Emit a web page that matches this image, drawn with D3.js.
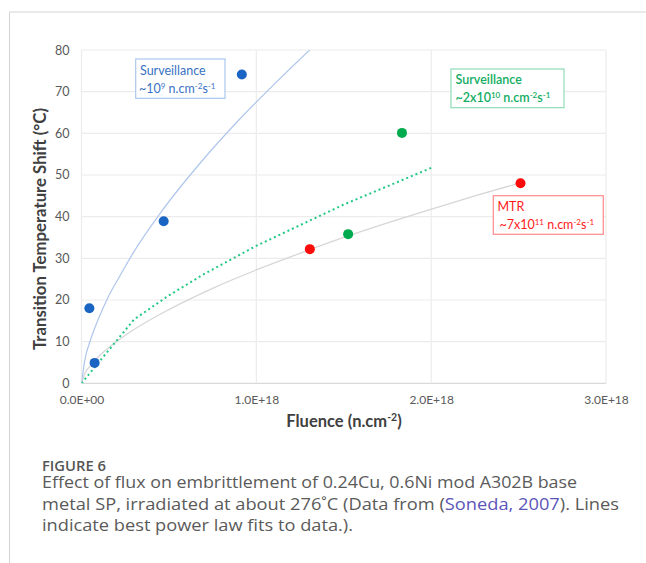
<!DOCTYPE html>
<html><head><meta charset="utf-8">
<script src="https://cdn.jsdelivr.net/npm/d3@7"></script>
<style>body{margin:0;background:#fff;} svg{display:block;}</style>
</head><body>
<svg id="c" width="646" height="563"></svg>
<script>
// ---- data (fluence in units of 1E18 n/cm2, shift in °C) ----
const xTicks = [0, 1, 2, 3];
const xTickLabels = ["0.0E+00", "1.0E+18", "2.0E+18", "3.0E+18"];
const yTicks = [0, 10, 20, 30, 40, 50, 60, 70, 80];

const blueX = [0.045, 0.075, 0.47, 0.917];
const blueY = [18, 4.9, 38.9, 74.1];
const greenX = [1.525, 1.833];
const greenY = [35.8, 60.1];
const redX = [1.306, 2.511];
const redY = [32.2, 48.0];

// fit lines
const blueFitX = [0, 0.02, 0.05, 0.1, 0.15, 0.22, 0.3, 0.45, 0.7, 0.9, 1.1, 1.31];
const blueFitY = [0, 5.8, 10.2, 15.8, 20.5, 25.8, 31.6, 40.8, 53.9, 63.2, 71.7, 80.2];
const greenFitX = [0, 0.3, 0.5, 0.7, 1.0, 1.5, 2.0];
const greenFitY = [0, 15.3, 21.1, 26.2, 33, 42.9, 51.7];
const grayFitX = [0, 0.02, 0.05, 0.1, 0.2, 0.3, 0.5, 0.75, 1.0, 1.25, 1.5, 1.75, 2.0, 2.25, 2.5];
const grayFitY = [0, 2.4, 4.2, 6.5, 10.0, 12.9, 17.7, 22.8, 27.2, 31.2, 35.0, 38.5, 41.8, 45.0, 48.0];

const svg = d3.select("#c");
const L = 81.5, R = 606, T = 50, B = 383.3;
const x = d3.scaleLinear().domain([0, 3]).range([L, R]);
const y = d3.scaleLinear().domain([0, 80]).range([B, T]);

// outer frame lines
svg.append("line").attr("x1", 9.5).attr("x2", 646).attr("y1", 12).attr("y2", 12).attr("stroke", "#d4d4d4");
svg.append("line").attr("x1", 9.5).attr("x2", 9.5).attr("y1", 12).attr("y2", 563).attr("stroke", "#d4d4d4");

// gridlines
const grid = svg.append("g");
grid.selectAll(".hg").data(yTicks).join("line")
  .attr("x1", L).attr("x2", R).attr("y1", d => y(d)).attr("y2", d => y(d))
  .attr("stroke", d => d === 0 ? "#d9d9d9" : "#ececec").attr("stroke-width", 1.2);
grid.selectAll(".vg").data(xTicks).join("line")
  .attr("x1", d => x(d)).attr("x2", d => x(d)).attr("y1", T).attr("y2", B)
  .attr("stroke", "#ececec").attr("stroke-width", 1.2);

// axes
const tickFont = "Lato, 'Liberation Sans', sans-serif";
const yAxis = svg.append("g").attr("transform", `translate(${L - 12},0)`)
  .call(d3.axisLeft(y).tickValues(yTicks).tickSize(0).tickPadding(0));
yAxis.select(".domain").remove();
yAxis.selectAll("text").attr("font-family", tickFont).attr("font-size", 12.5).attr("fill", "#595959");

const xAxis = svg.append("g").attr("transform", `translate(0,${B + 12})`)
  .call(d3.axisBottom(x).tickValues(xTicks).tickFormat((d, i) => xTickLabels[i]).tickSize(0).tickPadding(0));
xAxis.select(".domain").remove();
xAxis.selectAll("text").attr("font-family", tickFont).attr("font-size", 12).attr("fill", "#595959");

// clip
svg.append("clipPath").attr("id", "pc").append("rect").attr("x", L).attr("y", T).attr("width", R - L).attr("height", B - T);

const line = d3.line().x(d => x(d[0])).y(d => y(d[1]));
const fits = svg.append("g").attr("clip-path", "url(#pc)");
fits.append("path").datum(d3.zip(grayFitX, grayFitY))
  .attr("d", line.curve(d3.curveMonotoneX)).attr("fill", "none").attr("stroke", "#d6d6d6").attr("stroke-width", 1.3);
fits.append("path").datum(d3.zip(blueFitX, blueFitY))
  .attr("d", line.curve(d3.curveMonotoneX)).attr("fill", "none").attr("stroke", "#afc6ec").attr("stroke-width", 1.2);
fits.append("path").datum(d3.zip(greenFitX, greenFitY))
  .attr("d", line.curve(d3.curveLinear)).attr("fill", "none").attr("stroke", "#22c985")
  .attr("stroke-width", 2).attr("stroke-dasharray", "2,3");

// points
const pts = svg.append("g");
function dots(xs, ys, color) {
  pts.selectAll(null).data(d3.zip(xs, ys)).join("circle")
    .attr("cx", d => x(d[0])).attr("cy", d => y(d[1])).attr("r", 5).attr("fill", color);
}
dots(blueX, blueY, "#1a65c3");
dots(greenX, greenY, "#00aa4f");
dots(redX, redY, "#ff0a0a");

// annotation boxes
const annFont = "Lato, 'Liberation Sans', sans-serif";
function box(x0, y0, w, h, stroke) {
  svg.append("rect").attr("x", x0).attr("y", y0).attr("width", w).attr("height", h)
    .attr("fill", "#fff").attr("stroke", stroke).attr("stroke-width", 1.2);
}
function supLine(xp, yp, parts, color, weight) {
  const t = svg.append("text").attr("x", xp).attr("y", yp).attr("font-family", annFont)
    .attr("font-size", 12.5).attr("fill", color).attr("font-weight", weight);
  parts.forEach(p => {
    if (p[1]) t.append("tspan").attr("font-size", 8).attr("dy", -4).text(p[0]);
    else t.append("tspan").attr("font-size", 12.5).attr("dy", p[2] ? 4 : 0).text(p[0]);
  });
}
box(135.7, 59, 89.3, 39.3, "#a9c8ec");
supLine(140, 74.5, [["Surveillance", false]], "#3a72c4", 400);
supLine(139, 93, [["~10", false], ["9", true], [" n.cm", false, true], ["-2", true], ["s", false, true], ["-1", true]], "#3a72c4", 400);

box(451, 69, 113, 38.7, "#8fdcb5");
supLine(455.5, 84, [["Surveillance", false]], "#12ad62", 600);
supLine(455.5, 101.5, [["~2x10", false], ["10", true], [" n.cm", false, true], ["-2", true], ["s", false, true], ["-1", true]], "#12ad62", 600);

box(493.3, 195.7, 110, 38.6, "#ff8a8a");
supLine(497.5, 211, [["MTR", false]], "#ff1a1a", 400);
supLine(499.5, 228.5, [["~7x10", false], ["11", true], [" n.cm", false, true], ["-2", true], ["s", false, true], ["-1", true]], "#ff1a1a", 400);

// axis titles
const xt = svg.append("text").attr("x", 344).attr("y", 427).attr("text-anchor", "middle")
  .attr("font-family", annFont).attr("font-size", 16.5).attr("font-weight", 700).attr("fill", "#404040");
xt.append("tspan").text("Fluence (n.cm");
xt.append("tspan").attr("font-size", 10.5).attr("dy", -6).text("-2");
xt.append("tspan").attr("dy", 6).text(")");

svg.append("text").attr("transform", "translate(45.5,229) rotate(-90)").attr("text-anchor", "middle")
  .attr("font-family", annFont).attr("font-size", 16.5).attr("font-weight", 700).attr("fill", "#404040")
  .attr("textLength", 242).attr("lengthAdjust", "spacingAndGlyphs")
  .text("Transition Temperature Shift (°C)");

// caption
const capFont = "'Open Sans', 'Noto Sans', sans-serif";
svg.append("text").attr("x", 42).attr("y", 471).attr("font-family", capFont).attr("font-size", 13.5)
  .attr("font-weight", 600).attr("fill", "#555").attr("textLength", 64).attr("lengthAdjust", "spacingAndGlyphs")
  .text("FIGURE 6");
const capLines = [
  { y: 488, len: 535, parts: [["Effect of flux on embrittlement of 0.24Cu, 0.6Ni mod A302B base", "#5a5a5a"]] },
  { y: 509.5, len: 577, parts: [["metal SP, irradiated at about 276˚C (Data from (", "#5a5a5a"], ["Soneda, 2007", "#5b55b8"], ["). Lines", "#5a5a5a"]] },
  { y: 531, len: 311, parts: [["indicate best power law fits to data.).", "#5a5a5a"]] }
];
capLines.forEach(c => {
  const t = svg.append("text").attr("x", 42).attr("y", c.y).attr("font-family", capFont)
    .attr("font-size", 16).attr("fill", "#5a5a5a").attr("textLength", c.len).attr("lengthAdjust", "spacingAndGlyphs");
  c.parts.forEach(p => t.append("tspan").attr("fill", p[1]).text(p[0]));
});
</script>
</body></html>
